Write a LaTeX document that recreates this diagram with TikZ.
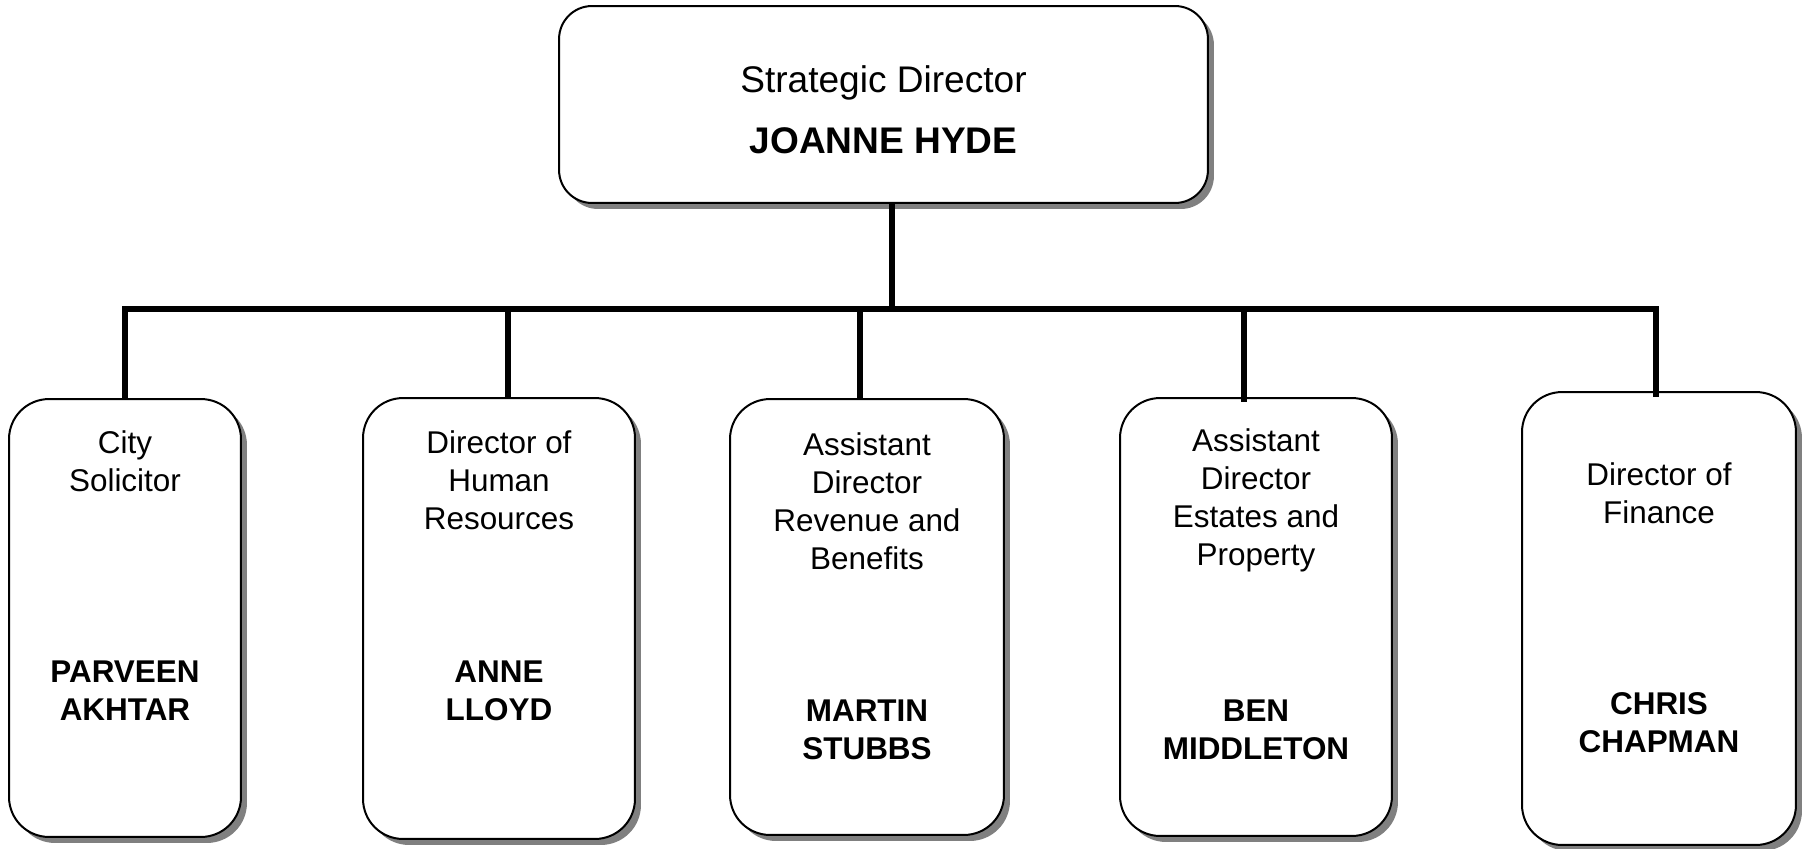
\documentclass[tikz,border=0pt]{standalone}
\usepackage{fontspec}
\setmainfont{Liberation Sans}
\usetikzlibrary{shadows}
\tikzset{
  orgbox/.style={draw=black, line width=0.04cm, fill=white, rounded corners=0.8cm,
    inner sep=0pt, drop shadow={shadow xshift=0.12cm, shadow yshift=-0.12cm, fill=black!50, opacity=1}},
  topbox/.style={orgbox, rounded corners=0.66cm},
  conn/.style={draw=black, line width=0.12cm, line join=miter},
  boxtxt/.style={align=center, inner sep=0pt, font=\fontsize{17.9}{21.6}\selectfont},
  boxname/.style={boxtxt, font=\fontsize{17.9}{21.6}\selectfont\bfseries},
  toptxt/.style={align=center, inner sep=0pt, font=\fontsize{21.1}{25}\selectfont},
  topname/.style={toptxt, font=\fontsize{21.1}{25}\selectfont\bfseries}
}
\begin{document}
\begin{tikzpicture}[x=0.02cm, y=-0.02cm]
\useasboundingbox (0,0) rectangle (1810,849);
% boxes
\node[topbox, minimum width=12.98cm, minimum height=3.94cm] (top) at (883.5,104.5) {};
\node[orgbox, minimum width=4.64cm, minimum height=8.76cm] (b1) at (125,618) {};
\node[orgbox, minimum width=5.44cm, minimum height=8.82cm] (b2) at (499,618.5) {};
\node[orgbox, minimum width=5.48cm, minimum height=8.72cm] (b3) at (867,617) {};
\node[orgbox, minimum width=5.44cm, minimum height=8.76cm] (b4) at (1256,617) {};
\node[orgbox, minimum width=5.48cm, minimum height=9.06cm] (b5) at (1659,618.5) {};
% texts
\node[toptxt] (toptitle) at (883.5,83) {Strategic Director};
\node[topname] (topname) at (883.5,141) {JOANNE HYDE};
\node[boxtxt] (t1a) at (125,461) {City\\Solicitor};
\node[boxname] (t1b) at (125,691) {PARVEEN\\AKHTAR};
\node[boxtxt] (t2a) at (499,480.5) {Director of\\Human\\Resources};
\node[boxname] (t2b) at (499,691) {ANNE\\LLOYD};
\node[boxtxt] (t3a) at (867,501) {Assistant\\Director\\Revenue and\\Benefits};
\node[boxname] (t3b) at (867,729.5) {MARTIN\\STUBBS};
\node[boxtxt] (t4a) at (1256,500.5) {Assistant\\Director\\Estates and\\Property};
\node[boxname] (t4b) at (1256,729.5) {BEN\\MIDDLETON};
\node[boxtxt] (t5a) at (1659,493.5) {Director of\\Finance};
\node[boxname] (t5b) at (1659,722.5) {CHRIS\\CHAPMAN};
% connector points on the bar
\coordinate (tj) at (892,309);
\coordinate (d1) at (125,309);
\coordinate (d2) at (508,309);
\coordinate (d3) at (860,309);
\coordinate (d4) at (1244,309);
\coordinate (d5) at (1656,309);
% connectors
\draw[conn] (top.south -| tj) -- (tj);
\draw[conn] (d1 |- b1.north) -- (d1) -- (d5) -- ([yshift=-0.12cm]d5 |- b5.north);
\draw[conn] (d2) -- (d2 |- b2.north);
\draw[conn] (d3) -- (d3 |- b3.north);
\draw[conn] (d4) -- ([yshift=-0.1cm]d4 |- b4.north);
\end{tikzpicture}
\end{document}
